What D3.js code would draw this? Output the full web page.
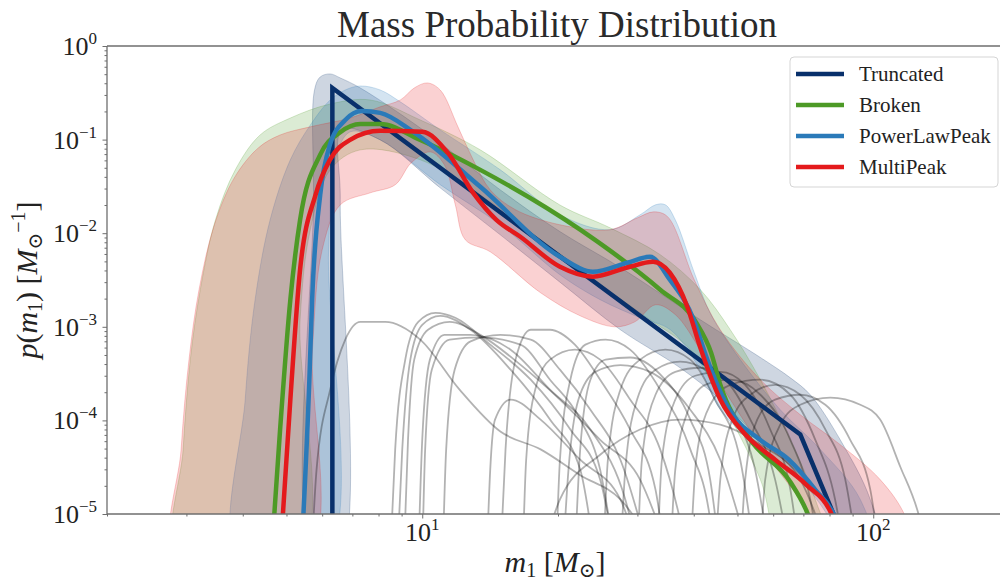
<!DOCTYPE html>
<html>
<head>
<meta charset="utf-8">
<script src="https://cdn.jsdelivr.net/npm/d3@7"></script>
<style>
body { margin: 0; background: #fff; }
svg { display: block; font-family: "Liberation Serif", "DejaVu Serif", serif; }
</style>
</head>
<body>
<svg id="chart" width="1000" height="581"></svg>
<script>
// model names and colours (legend order)
var models = ['Truncated', 'Broken', 'PowerLawPeak', 'MultiPeak'];
var colors = ['#08306b', '#4d9a26', '#2a7ab9', '#e41a1c'];

// median p(m1) curves, [m1, p]
var truncated = [[6.32,4e-6],[6.32,0.356],[68.9,7.1e-5],[88,4.2e-6]];
var broken = [[4.62,3e-6],[4.84,8.0e-5],[5.10,1.95e-3],[5.36,0.0139],[5.94,0.069],[6.58,0.12],[7.29,0.147],[8.07,0.147],
  [9.9,0.099],[13.45,0.0475],[22.4,0.0109],[33.7,0.00249],[40.5,0.00111],[43.7,5.3e-4],[45.8,2.4e-4],[53.4,6.2e-5],
  [65.5,2.2e-5],[71.3,1.05e-5],[74.4,6e-6]];
var powerLawPeak = [[5.40,4e-6],[5.62,2.72e-4],[5.70,1.95e-3],[5.94,0.0257],[6.24,0.0878],[6.75,0.162],[7.35,0.202],
  [8.07,0.193],[9.55,0.121],[13.45,0.0313],[20.2,0.0056],[23.9,0.00387],[28.5,0.00483],[32,0.0056],[35.4,0.00318],
  [40,0.00119],[42.5,5.0e-4],[48,1.3e-4],[56.1,6.2e-5],[65,3.8e-5],[74.5,1.8e-5],[82,9.6e-6],[86,5e-6]];
var multiPeak = [[4.85,4e-6],[5.10,1.67e-4],[5.36,0.0041],[5.80,0.0257],[6.24,0.0608],[6.92,0.0993],[8.07,0.124],
  [10.0,0.121],[11.4,0.0721],[12.97,0.027],[14.6,0.0139],[16.5,0.00916],[20.2,0.00438],[23.9,0.00343],[28.5,0.0043],
  [32.5,0.00495],[35.4,0.00378],[38.7,0.00164],[41.3,6.1e-4],[45.8,1.67e-4],[52,7.1e-5],[60.6,3.8e-5],[71,2.06e-5],
  [81.1,9.6e-6],[85,5e-6]];

// 90% bands: upper edge and lower edge, left to right
var truncatedHi = [[5.74,3.3e-6],[5.74,0.0227],[5.77,0.339],[5.94,0.467],[6.25,0.503],[6.58,0.456],[7.29,0.356],
  [9.9,0.133],[14.9,0.029],[20.2,0.0104],[27.5,0.0043],[41.35,1.19e-3],[56.2,4.7e-4],[65.5,2.85e-4],[72.5,1.88e-4],
  [84.5,6.2e-5],[98.5,1.43e-5],[104.7,3.3e-6]];
var truncatedLo = [[6.55,3.3e-6],[6.58,0.0227],[6.65,0.127],[8.07,0.0993],[10.96,0.0305],[14.9,0.0096],[20.2,0.0030],
  [27.5,9.3e-4],[37.3,3.65e-4],[45.8,1.67e-4],[56.2,6.2e-5],[68.9,2.6e-5],[80.3,1.12e-5],[86.7,3.3e-6]];
var brokenHi = [[2.88,3.3e-6],[2.95,4.9e-5],[3.06,4.46e-4],[3.22,0.0025],[3.48,0.0139],[3.85,0.0475],[4.37,0.112],
  [5.10,0.170],[6.25,0.24],[7.67,0.265],[9.9,0.162],[13.45,0.0777],[20.2,0.020],[26.1,0.0114],[33.7,0.0059],
  [41.35,0.0025],[48.2,9.3e-4],[56.2,2.72e-4],[65.5,6.2e-5],[74.4,1.43e-5],[80.3,3.3e-6]];
var brokenLo = [[5.31,3.3e-6],[5.36,1.19e-3],[5.65,0.011],[6.25,0.0475],[7.29,0.0777],[9.9,0.0608],[13.45,0.0257],
  [18.3,0.0085],[24.8,0.0028],[32,1.19e-3],[39.3,5.7e-4],[45.8,1.67e-4],[56.2,2.33e-5],[63.8,3.3e-6]];
var powerLawPeakHi = [[3.91,3.3e-6],[4.05,1.67e-4],[4.26,1.95e-3],[4.60,0.0139],[5.10,0.0608],[5.65,0.1435],
  [6.25,0.265],[6.75,0.339],[7.29,0.374],[8.07,0.339],[8.94,0.253],[10.96,0.127],[14.9,0.0475],[20.2,0.0157],
  [26.1,0.0109],[30.4,0.0157],[32.9,0.0201],[34.6,0.0201],[36.4,0.0139],[40.1,0.0038],[43.5,1.4e-3],[50.7,4.46e-4],
  [62.2,1.3e-4],[76.3,4.9e-5],[93.6,1.43e-5],[101,3.3e-6]];
var powerLawPeakLo = [[6.09,3.3e-6],[6.2,0.0066],[6.41,0.0608],[6.92,0.121],[8.07,0.0993],[10.96,0.033],[14.9,0.0123],
  [20.2,0.0036],[24.8,1.95e-3],[30.4,1.25e-3],[35.5,9.3e-4],[41.35,3.48e-4],[45.8,1.3e-4],[56.2,4.9e-5],[68.9,2.33e-5],
  [82.3,7e-6],[86.7,3.3e-6]];
var multiPeakHi = [[2.85,3.3e-6],[2.92,4.9e-5],[3.04,4.46e-4],[3.20,0.0025],[3.46,0.0123],[3.83,0.039],[4.33,0.0815],
  [4.84,0.112],[5.65,0.137],[6.92,0.170],[8.07,0.224],[8.94,0.265],[9.6,0.356],[10.26,0.403],[10.96,0.339],[12.0,0.137],
  [12.97,0.0608],[14.15,0.029],[16.1,0.0178],[20.2,0.0123],[26.1,0.0109],[30,0.0146],[32.6,0.0169],[35,0.015],
  [40.1,0.00318],[45.8,9.3e-4],[56.2,2.72e-4],[68.9,1.15e-4],[84.5,5.5e-5],[103.6,2.33e-5],[117.6,9.6e-6],[124,3.3e-6]];
var multiPeakLo = [[5.53,3.3e-6],[5.71,5.7e-4],[6.0,0.00665],[6.58,0.0201],[7.67,0.027],[8.71,0.0329],[9.45,0.0564],
  [10.42,0.074],[11.2,0.0537],[11.84,0.0201],[12.46,0.0085],[14.15,0.00633],[18.3,0.00231],[22.4,1.31e-3],[26.7,1.0e-3],
  [29.6,1.13e-3],[32.9,1.72e-3],[36.4,1.35e-3],[41.35,5.7e-4],[48.2,1.67e-4],[59.1,3.8e-5],[72.5,9.6e-6],[78.3,3.3e-6]];

// single-event posteriors (grey)
var events = [
  [[5.68,3.3e-6],[5.83,2.98e-5],[6.25,2.13e-4],[6.75,7.3e-4],[7.29,1.13e-3],[8.28,1.13e-3],[9.9,7.3e-4],[12.1,2.13e-4],[14.9,7.6e-5],[18.3,4.9e-5],[22.4,2.6e-5],[27.5,1.43e-5],[33.7,3.3e-6]],
  [[8.49,3.3e-6],[8.71,4.9e-5],[9.17,4.46e-4],[9.8,1.13e-3],[10.7,1.41e-3],[11.84,1.25e-3],[14.15,6.45e-4],[17.4,2.72e-4],[21.3,8e-5],[24.8,2.33e-5],[26.8,3.3e-6]],
  [[8.8,3.3e-6],[9.03,4.9e-5],[9.41,4.46e-4],[10.0,1.05e-3],[10.96,1.31e-3],[12.8,9.3e-4],[15.7,3.48e-4],[19.2,1.02e-4],[22.4,2.98e-5],[24.2,3.3e-6]],
  [[9.1,3.3e-6],[9.3,6.2e-5],[9.6,4.46e-4],[10.3,9.3e-4],[11.5,1.13e-3],[13.45,8.2e-4],[16.5,3.94e-4],[20.2,1.67e-4],[24.8,6.2e-5],[30.4,2.33e-5],[35.5,3.3e-6]],
  [[9.8,3.3e-6],[10.0,6.2e-5],[10.4,4.46e-4],[11.2,8.2e-4],[12.8,8.2e-4],[15.7,5.7e-4],[19.2,2.13e-4],[23.6,8e-5],[28.2,1.43e-5],[30.4,3.3e-6]],
  [[10.0,3.3e-6],[10.15,4.9e-5],[10.5,3.48e-4],[11.5,7.3e-4],[13.45,7.7e-4],[16.5,6.45e-4],[19.2,2.72e-4],[22.4,1.02e-4],[24.8,2.98e-5],[26.8,3.3e-6]],
  [[11.1,3.3e-6],[11.3,4.9e-5],[11.8,3.48e-4],[12.8,7e-4],[14.9,8.2e-4],[17.4,7.3e-4],[20.2,3.48e-4],[23.6,1.3e-4],[27.5,3.8e-5],[32,3.3e-6]],
  [[13.9,3.3e-6],[14.15,2.98e-5],[14.5,1.02e-4],[15.7,1.67e-4],[18.3,1.02e-4],[22.4,3.8e-5],[27.5,1.43e-5],[30.4,3.3e-6]],
  [[14.9,3.3e-6],[15.3,4.9e-5],[16.1,4.46e-4],[17.4,9.3e-4],[19.2,9.3e-4],[21.8,6.45e-4],[24.8,2.72e-4],[28.9,8e-5],[32.9,1.82e-5],[34.6,3.3e-6]],
  [[16.7,3.3e-6],[17.0,3.8e-5],[17.8,2.13e-4],[19.2,4.46e-4],[21.8,5.7e-4],[24.8,4.46e-4],[28.9,1.67e-4],[33.7,4.9e-5],[37.3,8.7e-6],[38.9,3.3e-6]],
  [[19.8,3.3e-6],[20.2,3.8e-5],[21.3,2.72e-4],[23.0,6.45e-4],[25.5,7.3e-4],[28.9,5.7e-4],[33.7,2.13e-4],[39.3,4.9e-5],[43.5,8.7e-6],[44.6,3.3e-6]],
  [[20.5,3.3e-6],[21.1,2.98e-5],[22.2,1.67e-4],[24.2,3.3e-4],[27.5,3.9e-4],[32,3.3e-4],[39.3,1.3e-4],[45.8,3.8e-5],[52,5.3e-6]],
  [[21.8,3.3e-6],[22.4,4.9e-5],[23.6,2.72e-4],[25.5,4.46e-4],[28.9,4.7e-4],[33.7,3.1e-4],[39.3,1.02e-4],[43.5,2.33e-5],[45.8,3.3e-6]],
  [[25.2,3.3e-6],[25.8,3.8e-5],[27.5,2.13e-4],[30.4,4.46e-4],[34.6,5.7e-4],[39.3,4.46e-4],[44.6,1.67e-4],[50.7,3.8e-5],[54.7,3.3e-6]],
  [[27.5,3.3e-6],[28.2,2.98e-5],[29.95,1.67e-4],[32.9,3.48e-4],[37.3,4.25e-4],[42.4,3.48e-4],[48.2,1.3e-4],[54.7,2.98e-5],[59.1,3.3e-6]],
  [[30,3.3e-6],[30.7,3.8e-5],[32.9,1.88e-4],[36.4,3.3e-4],[41.35,3.65e-4],[47,2.72e-4],[53.4,1.02e-4],[60.6,2.33e-5],[65.5,3.3e-6]],
  [[33.2,3.3e-6],[34,3.8e-5],[36.4,1.67e-4],[40.3,3e-4],[45.8,3.3e-4],[52,2.4e-4],[59.1,8e-5],[65.5,1.82e-5],[68.9,3.3e-6]],
  [[35.5,3.3e-6],[36.4,2.98e-5],[38.9,1.3e-4],[42.4,2.4e-4],[48.2,2.72e-4],[56.2,1.88e-4],[65.5,6.2e-5],[72.5,1.43e-5],[76.3,3.3e-6]],
  [[39.3,3.3e-6],[40.5,3.8e-5],[43.5,1.47e-4],[48.2,2.4e-4],[56.2,2.72e-4],[65.5,1.88e-4],[74.4,6.2e-5],[82.3,1.43e-5],[86.7,3.3e-6]],
  [[44.6,3.3e-6],[45.8,2.33e-5],[48.7,1.02e-4],[53.4,1.88e-4],[60.6,2.4e-4],[68.9,1.88e-4],[78.3,8e-5],[86.7,2.33e-5],[92.6,3.3e-6]],
  [[50.7,3.3e-6],[52,2.33e-5],[55.3,1.02e-4],[60.6,1.67e-4],[68.9,1.88e-4],[78.3,1.47e-4],[88.9,6.2e-5],[98.5,1.82e-5],[103.6,3.3e-6]],
  [[56.2,3.3e-6],[57.6,2.33e-5],[62.2,9e-5],[68.9,1.47e-4],[80.3,1.75e-4],[93.6,1.47e-4],[103.6,1.02e-4],[114.8,3.2e-5],[126,1.0e-5],[131,4.7e-6]],
  [[18.3,3.3e-6],[20.2,1.43e-5],[24.8,4.3e-5],[30.4,8e-5],[37.3,1.02e-4],[45.8,9e-5],[56.2,5.5e-5],[68.9,2.33e-5],[80.3,3.3e-6]]
];

// tick values
var xMajor = [10, 100];
var xMinor = [2,3,4,5,6,7,8,9,20,30,40,50,60,70,80,90,200];
var yExp = [-5, -4, -3, -2, -1, 0];

// plot frame (the right edge runs past the picture)
var pL = 107, pT = 46, pR = 1009, pB = 514;

var x = d3.scaleLog().domain([2, 200]).range([pL, pR]);
var y = d3.scaleLog().domain([1e-5, 1]).range([pB, pT]);

var svg = d3.select('#chart');
svg.append('defs').append('clipPath').attr('id', 'clip')
  .append('rect').attr('x', pL).attr('y', pT).attr('width', pR - pL).attr('height', pB - pT);

var plot = svg.append('g').attr('clip-path', 'url(#clip)');

var bandPath = d3.line().x(d => x(d[0])).y(d => y(d[1])).curve(d3.curveCatmullRomClosed.alpha(0.5));
var smooth = d3.line().x(d => x(d[0])).y(d => y(d[1])).curve(d3.curveMonotoneX);
var straight = d3.line().x(d => x(d[0])).y(d => y(d[1]));

var bands = [[truncatedHi, truncatedLo], [brokenHi, brokenLo], [powerLawPeakHi, powerLawPeakLo], [multiPeakHi, multiPeakLo]];
bands.forEach(function(b, i) {
  plot.append('path')
    .attr('d', bandPath(b[0].concat(b[1].slice().reverse())))
    .attr('fill', colors[i]).attr('fill-opacity', 0.2)
    .attr('stroke', colors[i]).attr('stroke-opacity', 0.22).attr('stroke-width', 1);
});

events.forEach(function(ev) {
  plot.append('path').attr('d', smooth(ev))
    .attr('fill', 'none').attr('stroke', '#000').attr('stroke-opacity', 0.3).attr('stroke-width', 1.8);
});

var medians = [truncated, broken, powerLawPeak, multiPeak];
medians.forEach(function(m, i) {
  plot.append('path').attr('d', i == 0 ? straight(m) : smooth(m))
    .attr('fill', 'none').attr('stroke', colors[i]).attr('stroke-width', 4.5)
    .attr('stroke-linejoin', 'miter');
});

// axes
var axisColor = '#6e6e6e';
var gx = svg.append('g').attr('transform', 'translate(0,' + pB + ')');
gx.call(d3.axisBottom(x).tickValues(xMinor).tickSize(2.5).tickFormat(''));
var gxMaj = svg.append('g').attr('transform', 'translate(0,' + pB + ')');
gxMaj.call(d3.axisBottom(x).tickValues(xMajor).tickSize(4.5).tickFormat(''));

var gy = svg.append('g').attr('transform', 'translate(' + pL + ',0)');
var yMinor = [];
yExp.forEach(function(e) { if (e < 0) for (var k = 2; k <= 9; k++) yMinor.push(k * Math.pow(10, e)); });
gy.call(d3.axisLeft(y).tickValues(yMinor).tickSize(2.5).tickFormat(''));
var gyMaj = svg.append('g').attr('transform', 'translate(' + pL + ',0)');
gyMaj.call(d3.axisLeft(y).tickValues(yExp.map(e => Math.pow(10, e))).tickSize(4.5).tickFormat(''));

svg.selectAll('.domain').remove();
svg.selectAll('.tick line').attr('stroke', axisColor).attr('stroke-width', 1);

svg.append('line').attr('x1', pL).attr('x2', pR).attr('y1', pB).attr('y2', pB).attr('stroke', axisColor).attr('stroke-width', 1.3);
svg.append('line').attr('x1', pL).attr('x2', pR).attr('y1', pT).attr('y2', pT).attr('stroke', axisColor).attr('stroke-width', 1.3);
svg.append('line').attr('x1', pL).attr('x2', pL).attr('y1', pT).attr('y2', pB).attr('stroke', axisColor).attr('stroke-width', 1.3);

// tick labels
yExp.forEach(function(e) {
  var t = svg.append('text').attr('x', 97).attr('y', y(Math.pow(10, e)) + 9)
    .attr('text-anchor', 'end').attr('font-size', 26).attr('fill', '#222');
  t.append('tspan').text('10');
  t.append('tspan').attr('dy', -11).attr('font-size', 17).text(e < 0 ? '\u2212' + (-e) : String(e));
});
xMajor.forEach(function(v) {
  var t = svg.append('text').attr('x', x(v)).attr('y', 541)
    .attr('text-anchor', 'middle').attr('font-size', 26).attr('fill', '#222');
  t.append('tspan').text('10');
  t.append('tspan').attr('dy', -11).attr('font-size', 17).text(String(Math.round(Math.log10(v))));
});

// title and axis labels
svg.append('text').attr('x', 557).attr('y', 37).attr('text-anchor', 'middle')
  .attr('font-size', 37).attr('fill', '#2a2a2a').text('Mass Probability Distribution');

var xl = svg.append('text').attr('x', 555).attr('y', 572).attr('text-anchor', 'middle')
  .attr('font-size', 30).attr('fill', '#222');
xl.append('tspan').attr('font-style', 'italic').text('m');
xl.append('tspan').attr('font-size', 20).attr('dy', 5).text('1');
xl.append('tspan').attr('dy', -5).text(' [');
xl.append('tspan').attr('font-style', 'italic').text('M');
xl.append('tspan').attr('font-size', 20).attr('dy', 5).attr('font-family', 'DejaVu Serif').text('\u2299');
xl.append('tspan').attr('dy', -5).text(']');

var yl = svg.append('text').attr('transform', 'translate(37,280) rotate(-90)').attr('text-anchor', 'middle')
  .attr('font-size', 30).attr('fill', '#222');
yl.append('tspan').attr('font-style', 'italic').text('p');
yl.append('tspan').text('(');
yl.append('tspan').attr('font-style', 'italic').text('m');
yl.append('tspan').attr('font-size', 20).attr('dy', 5).text('1');
yl.append('tspan').attr('dy', -5).text(') [');
yl.append('tspan').attr('font-style', 'italic').text('M');
yl.append('tspan').attr('font-size', 20).attr('dy', 5).attr('font-family', 'DejaVu Serif').text('\u2299');
yl.append('tspan').attr('font-size', 20).attr('dy', -17).text('\u22121');
yl.append('tspan').attr('dy', 12).text(']');

// legend
var lg = svg.append('g');
lg.append('rect').attr('x', 790).attr('y', 57).attr('width', 208).attr('height', 130).attr('rx', 4)
  .attr('fill', '#fff').attr('fill-opacity', 0.85).attr('stroke', '#d5d5d5').attr('stroke-width', 1);
models.forEach(function(name, i) {
  var ly = 74 + i * 31;
  lg.append('line').attr('x1', 796).attr('x2', 844).attr('y1', ly).attr('y2', ly)
    .attr('stroke', colors[i]).attr('stroke-width', 4.5);
  lg.append('text').attr('x', 859).attr('y', ly + 7).attr('font-size', 21).attr('fill', '#222').text(name);
});
</script>
</body>
</html>
